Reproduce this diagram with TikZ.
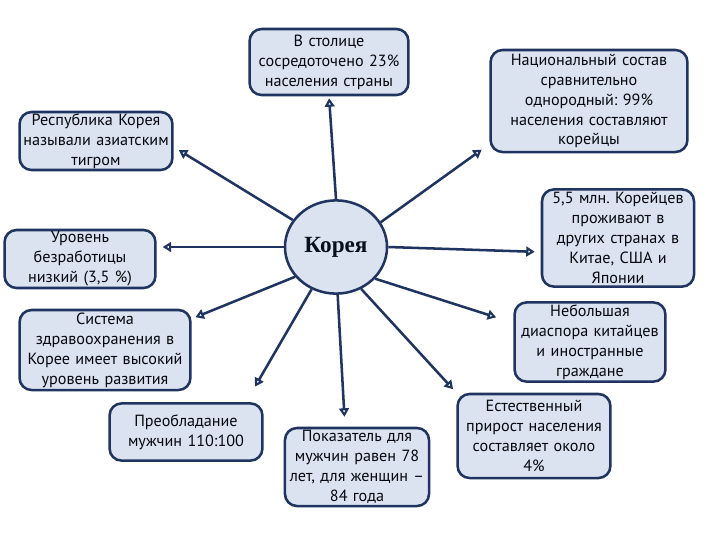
\documentclass[tikz,border=0pt]{standalone}
\usepackage{fontspec}
\setmainfont{PT Sans}
\newfontfamily\titlefont{Liberation Serif}
\usetikzlibrary{arrows.meta,shapes.geometric}
\definecolor{navy}{RGB}{31,52,96}
\definecolor{boxfill}{RGB}{220,227,240}
\frenchspacing
\begin{document}
\begin{tikzpicture}[x=0.025cm, y=-0.025cm,
		box/.style={draw=navy, line width=1.8pt, fill=boxfill, rounded corners=0.3cm,
			align=center, inner sep=1pt, text=black!85!navy,
			font=\fontsize{11.5}{14.2}\selectfont},
		hub/.style={ellipse, draw=navy, line width=1.8pt, fill=boxfill, inner sep=0pt,
			minimum width=2.55cm, minimum height=2.33cm,
			font=\titlefont\bfseries\fontsize{16.5}{20}\selectfont, text=black!70!navy},
		link/.style={draw=navy, line width=1.8pt, -{Triangle[open, length=6pt, width=7pt]}}]
	\fill[white] (0,0) rectangle (720,540);
	\useasboundingbox (0,0) rectangle (720,540);
	% centre
	\node[hub] (kor) at (336,247) {Корея};
	% boxes
	\node[box, text width=3.9cm, minimum height=1.65cm] (capital) at (329,62)
		{В столице\\сосредоточено 23\%\\населения страны};
	\node[box, text width=4.85cm, minimum height=2.55cm] (nation) at (589,101)
		{Национальный состав\\сравнительно\\однородный: 99\%\\населения составляют\\корейцы};
	\node[box, text width=3.75cm, minimum height=1.45cm] (tiger) at (96,141)
		{Республика Корея\\называли азиатским\\тигром};
	\node[box, text width=3.7cm, minimum height=1.45cm] (jobless) at (80,259)
		{Уровень\\безработицы\\низкий (3,5 \%)};
	\node[box, text width=3.73cm, minimum height=2.43cm] (abroad) at (618,238)
		{5,5 млн. Корейцев\\проживают в\\других странах в\\Китае, США и\\Японии};
	\node[box, text width=4.2cm, minimum height=2cm] (health) at (105,350)
		{Система\\здравоохранения в\\Корее имеет высокий\\уровень развития};
	\node[box, text width=3.7cm, minimum height=1.98cm] (diaspora) at (590,342)
		{Небольшая\\диаспора китайцев\\и иностранные\\граждане};
	\node[box, text width=3.75cm, minimum height=1.43cm] (men) at (186,432)
		{Преобладание\\мужчин 110:100};
	\node[box, text width=3.53cm, minimum height=1.95cm] (life) at (357,467)
		{Показатель для\\мужчин равен 78\\лет, для женщин --\\84 года};
	\node[box, text width=3.75cm, minimum height=2.1cm] (growth) at (534,436)
		{Естественный\\прирост населения\\составляет около\\4\%};
	% arrow ends
	\coordinate (e1) at (capital.south);
	\coordinate (e2) at ([xshift=-0.15cm, yshift=0.12cm]nation.south west);
	\coordinate (e3) at ([yshift=-0.15cm]tiger.east);
	\coordinate (e4) at (kor.west -| jobless.east);
	\coordinate (e5) at ([yshift=-0.35cm]abroad.west);
	\coordinate (e6) at ([yshift=-0.25cm]health.north east);
	\coordinate (e7) at ([yshift=0.48cm]diaspora.west);
	\coordinate (e8) at ([xshift=1.5cm]men.north);
	\coordinate (e9) at ([xshift=-0.3cm]life.north);
	\coordinate (e10) at (growth.north west);
	\foreach \s/\e/\g in {kor.north/e1/0.05cm, kor.29/e2/0.05cm, kor.148/e3/0.15cm,
		kor.west/e4/0.15cm, kor.east/e5/0.15cm, kor.216/e6/0.1cm, kor.321/e7/0.45cm,
		kor.240/e8/0.45cm, kor.272/e9/0.25cm, kor.301/e10/0.12cm}
		\draw[link, shorten >=\g] (\s) -- (\e);
\end{tikzpicture}
\end{document}
